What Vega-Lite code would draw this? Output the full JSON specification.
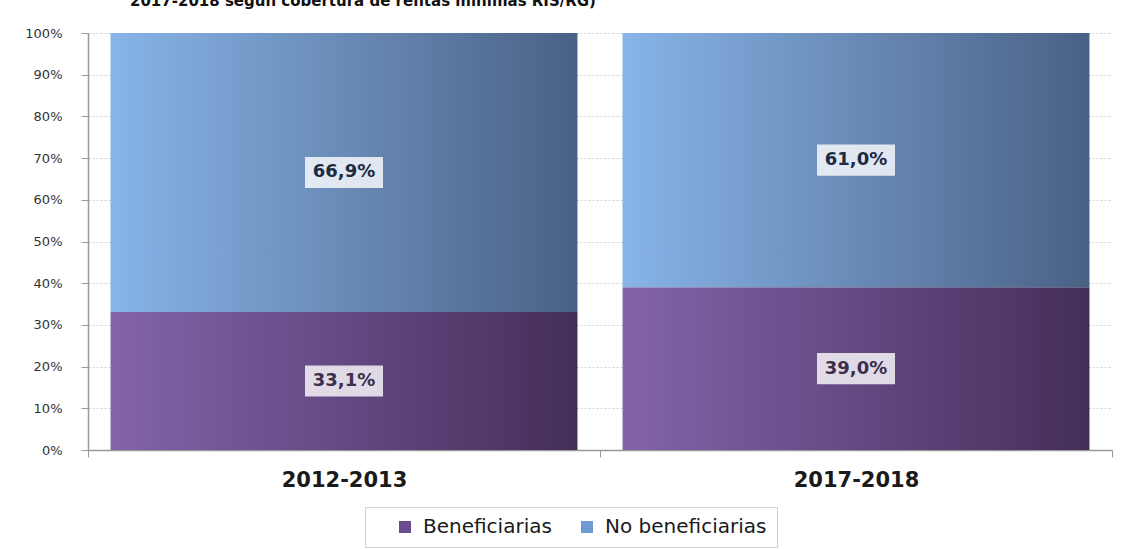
{
  "$schema": "https://vega.github.io/schema/vega-lite/v6.json",
  "width": 1024,
  "height": 417,
  "autosize": {"type": "none"},
  "padding": {"left": 88, "top": 33, "right": 16, "bottom": 99},
  "background": "white",
  "title": {
    "text": "2017-2018 según cobertura de rentas mínimas RIS/RG)",
    "anchor": "start",
    "frame": "group",
    "dx": 42,
    "offset": 6,
    "baseline": "alphabetic",
    "font": "DejaVu Sans",
    "fontSize": 15,
    "fontWeight": "bold",
    "color": "#111111"
  },
  "config": {
    "locale": {"number": {"decimal": ",", "thousands": ".", "grouping": [3], "currency": ["", " €"]}},
    "view": {"stroke": null}
  },
  "data": {
    "values": [
      {"periodo": "2012-2013", "grupo": "Beneficiarias", "valor": 0.331},
      {"periodo": "2012-2013", "grupo": "No beneficiarias", "valor": 0.669},
      {"periodo": "2017-2018", "grupo": "Beneficiarias", "valor": 0.39},
      {"periodo": "2017-2018", "grupo": "No beneficiarias", "valor": 0.61}
    ]
  },
  "transform": [
    {"stack": "valor", "groupby": ["periodo"], "sort": [{"field": "grupo", "order": "ascending"}], "as": ["y0", "y1"]}
  ],
  "encoding": {
    "x": {
      "field": "periodo",
      "type": "nominal",
      "scale": {"paddingInner": 0, "paddingOuter": 0},
      "axis": {
        "title": null,
        "labelAngle": 0,
        "labelFont": "DejaVu Sans",
        "labelFontSize": 21,
        "labelFontWeight": "bold",
        "labelColor": "#1a1a1a",
        "labelPadding": 12,
        "tickBand": "extent",
        "tickSize": 7,
        "tickColor": "#999999",
        "domainColor": "#999999",
        "domainWidth": 1.5,
        "grid": false
      }
    }
  },
  "layer": [
    {
      "transform": [{"filter": "datum.grupo === 'Beneficiarias'"}],
      "mark": {
        "type": "bar",
        "width": {"band": 0.912},
        "color": {
          "gradient": "linear", "x1": 0, "y1": 0, "x2": 1, "y2": 0,
          "stops": [{"offset": 0, "color": "#8463ab"}, {"offset": 1, "color": "#442e59"}]
        }
      },
      "encoding": {
        "y": {
          "field": "y0",
          "type": "quantitative",
          "title": null,
          "scale": {"domain": [0, 1], "nice": false},
          "axis": {
            "title": null,
            "format": ".0%",
            "values": [0, 0.1, 0.2, 0.3, 0.4, 0.5, 0.6, 0.7, 0.8, 0.9, 1],
            "labelFont": "DejaVu Sans",
            "labelFontSize": 13,
            "labelColor": "#333333",
            "labelPadding": 19,
            "tickSize": 7,
            "tickColor": "#999999",
            "domainColor": "#999999",
            "domainWidth": 1.5,
            "grid": true,
            "gridColor": "#d0d0d0",
            "gridDash": [2, 2],
            "gridWidth": 1
          }
        },
        "y2": {"field": "y1"}
      }
    },
    {
      "transform": [{"filter": "datum.grupo === 'No beneficiarias'"}],
      "mark": {
        "type": "bar",
        "width": {"band": 0.912},
        "color": {
          "gradient": "linear", "x1": 0, "y1": 0, "x2": 1, "y2": 0,
          "stops": [{"offset": 0, "color": "#88b4e8"}, {"offset": 1, "color": "#4a6185"}]
        }
      },
      "encoding": {
        "y": {"field": "y0", "type": "quantitative", "title": null},
        "y2": {"field": "y1"}
      }
    },
    {
      "mark": {"type": "point", "shape": "square", "filled": true, "opacity": 0, "size": 10},
      "encoding": {
        "y": {"field": "y0", "type": "quantitative", "title": null},
        "color": {
          "field": "grupo",
          "type": "nominal",
          "scale": {"domain": ["Beneficiarias", "No beneficiarias"], "range": ["#6a4b8e", "#6f9bd2"]},
          "legend": {
            "title": null,
            "orient": "none",
            "legendX": 277,
            "legendY": 474,
            "direction": "horizontal",
            "symbolType": "square",
            "symbolSize": 144,
            "symbolOpacity": 1,
            "symbolStrokeWidth": 0,
            "symbolOffset": 20,
            "labelFont": "DejaVu Sans",
            "labelFontSize": 20,
            "labelLimit": 400,
            "labelColor": "#1a1a1a",
            "labelOffset": 8,
            "columnPadding": 5,
            "padding": 10,
            "strokeColor": "#d0d0d0",
            "fillColor": "white"
          }
        }
      }
    },
    {
      "transform": [
        {"fold": ["y0", "y1"], "as": ["extremo", "pos"]},
        {"aggregate": [{"op": "mean", "field": "pos", "as": "medio"}], "groupby": ["periodo", "grupo", "valor"]}
      ],
      "layer": [
        {
          "mark": {
            "type": "point",
            "shape": "M-1,-0.4H1V0.4H-1Z",
            "size": 6084,
            "filled": true,
            "fill": "white",
            "fillOpacity": 0.8,
            "strokeWidth": 0
          },
          "encoding": {
            "y": {"field": "medio", "type": "quantitative", "title": null}
          }
        },
        {
          "mark": {"type": "text", "font": "DejaVu Sans", "fontSize": 18, "fontWeight": "bold", "baseline": "middle", "align": "center"},
          "encoding": {
            "y": {"field": "medio", "type": "quantitative", "title": null},
            "text": {"field": "valor", "type": "quantitative", "format": ".1%"},
            "color": {
              "condition": {"test": "datum.grupo === 'Beneficiarias'", "value": "#3b2f4e"},
              "value": "#1c2b45"
            }
          }
        }
      ]
    }
  ]
}
